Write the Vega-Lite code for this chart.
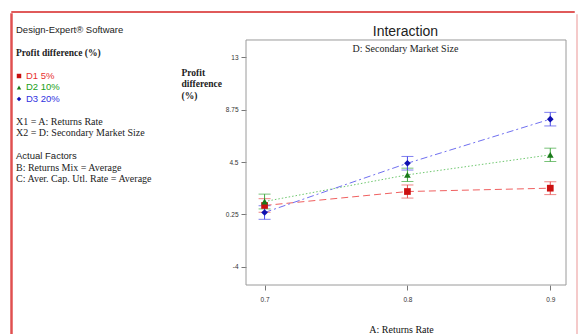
{
  "$schema": "https://vega.github.io/schema/vega-lite/v6.json",
  "padding": {"left": 10, "top": 10, "right": 0, "bottom": 0},
  "background": "white",
  "spacing": 0,
  "config": {"view": {"stroke": null}, "font": "Liberation Sans"},
  "vconcat": [
    {
      "width": 563, "height": 1,
      "data": {"values": []},
      "mark": "point",
      "view": {"stroke": "#e05a5a", "strokeWidth": 1}
    },
    {
      "spacing": 0,
      "hconcat": [
        {
          "width": 1, "height": 322,
          "data": {"values": []},
          "mark": "point",
          "view": {"stroke": "#e05050", "strokeWidth": 1.5}
        },
        {
          "width": 168, "height": 180,
          "data": {"values": [
            {"line": 0, "text": "Design-Expert® Software", "kind": "note"},
            {"line": 2, "text": "Profit difference (%)", "kind": "response"},
            {"line": 4, "text": "D1 5%", "kind": "level"},
            {"line": 5, "text": "D2 10%", "kind": "level"},
            {"line": 6, "text": "D3 20%", "kind": "level"},
            {"line": 8, "text": "X1 = A: Returns Rate", "kind": "factor"},
            {"line": 9, "text": "X2 = D: Secondary Market Size", "kind": "factor"},
            {"line": 11, "text": "Actual Factors", "kind": "note"},
            {"line": 12, "text": "B: Returns Mix = Average", "kind": "factor"},
            {"line": 13, "text": "C: Aver. Cap. Utl. Rate = Average", "kind": "factor"}
          ]},
          "encoding": {
            "x": {"datum": 0, "type": "quantitative", "scale": {"domain": [-1, 27], "nice": false, "zero": false}, "axis": null},
            "y": {"field": "line", "type": "quantitative", "scale": {"domain": [-1.391, 14.261], "reverse": true, "nice": false, "zero": false}, "axis": null}
          },
          "layer": [
            {
              "transform": [{"filter": "datum.kind === 'note'"}],
              "mark": {"type": "text", "align": "left", "baseline": "middle", "dx": -3, "font": "Liberation Sans", "fontSize": 9.5, "color": "#222222"},
              "encoding": {"text": {"field": "text"}}
            },
            {
              "transform": [{"filter": "datum.kind === 'response'"}],
              "mark": {"type": "text", "align": "left", "baseline": "middle", "dx": -3, "font": "Liberation Serif", "fontWeight": "bold", "fontSize": 9.5, "color": "#222222"},
              "encoding": {"text": {"field": "text"}}
            },
            {
              "transform": [{"filter": "datum.kind === 'factor'"}],
              "mark": {"type": "text", "align": "left", "baseline": "middle", "dx": -3, "font": "Liberation Serif", "fontSize": 10, "color": "#222222"},
              "encoding": {"text": {"field": "text"}}
            },
            {
              "transform": [{"filter": "datum.kind === 'level'"}],
              "mark": {"type": "text", "align": "left", "baseline": "middle", "dx": 7, "font": "Liberation Sans", "fontSize": 9.5},
              "encoding": {
                "text": {"field": "text"},
                "color": {"field": "text", "type": "nominal", "scale": {"domain": ["D1 5%", "D2 10%", "D3 20%"], "range": ["#e83030", "#20a020", "#3030e0"]}, "legend": null}
              }
            },
            {
              "transform": [{"filter": "datum.kind === 'level'"}],
              "mark": {"type": "point", "filled": true, "opacity": 1, "size": 20},
              "encoding": {
                "shape": {"field": "text", "type": "nominal", "scale": {"domain": ["D1 5%", "D2 10%", "D3 20%"], "range": ["square", "triangle-up", "diamond"]}, "legend": null},
                "color": {"field": "text", "type": "nominal", "scale": {"domain": ["D1 5%", "D2 10%", "D3 20%"], "range": ["#c81010", "#1a7a1a", "#1010b8"]}, "legend": null}
              }
            }
          ],
          "resolve": {"scale": {"color": "independent"}}
        },
        {
          "width": 329, "height": 271,
          "data": {"values": [
            {"A": 0.7, "D": "D1 5%", "y": 0.98, "lo": 0.43, "hi": 1.53},
            {"A": 0.8, "D": "D1 5%", "y": 2.11, "lo": 1.58, "hi": 2.64},
            {"A": 0.9, "D": "D1 5%", "y": 2.38, "lo": 1.86, "hi": 2.9},
            {"A": 0.7, "D": "D2 10%", "y": 1.3, "lo": 0.7, "hi": 1.9},
            {"A": 0.8, "D": "D2 10%", "y": 3.46, "lo": 2.92, "hi": 4.0},
            {"A": 0.9, "D": "D2 10%", "y": 5.08, "lo": 4.54, "hi": 5.62},
            {"A": 0.7, "D": "D3 20%", "y": 0.41, "lo": -0.14, "hi": 0.96},
            {"A": 0.8, "D": "D3 20%", "y": 4.4, "lo": 3.85, "hi": 4.95},
            {"A": 0.9, "D": "D3 20%", "y": 7.97, "lo": 7.42, "hi": 8.52}
          ]},
          "layer": [
            {
              "data": {"values": [{}]},
              "mark": {"type": "rect", "filled": false, "stroke": "#9a9a9a", "strokeWidth": 1},
              "encoding": {
                "x": {"datum": 0.687, "type": "quantitative", "scale": {"domain": [0.687, 0.9173], "nice": false, "zero": false}},
                "x2": {"datum": 0.911},
                "y": {"datum": -5.46, "type": "quantitative", "scale": {"domain": [-5.46, 16.485], "nice": false, "zero": false}},
                "y2": {"datum": 14.38}
              }
            },
            {
              "mark": {"type": "line", "strokeWidth": 1},
              "encoding": {
                "x": {
                  "field": "A", "type": "quantitative", "title": "A: Returns Rate",
                  "scale": {"domain": [0.687, 0.9173], "nice": false, "zero": false},
                  "axis": {"values": [0.7, 0.8, 0.9], "format": ".1f", "tickSize": 5, "tickColor": "#777777", "labelPadding": 6, "labelFontSize": 6.5, "labelColor": "#333333", "domain": false, "grid": false, "titleFont": "Liberation Serif", "titleFontSize": 10, "titleFontWeight": "normal", "titleColor": "#111111", "titlePadding": 22, "titleX": 155}
                },
                "y": {"field": "y", "type": "quantitative", "title": ["Profit", "difference", "(%)"],
                  "scale": {"domain": [-5.46, 16.485], "nice": false, "zero": false},
                  "axis": {"values": [-4, 0.25, 4.5, 8.75, 13], "labelExpr": "'' + datum.value", "tickSize": 5, "tickColor": "#777777", "labelPadding": 3, "labelFontSize": 6.5, "labelColor": "#333333", "domain": false, "grid": false, "titleAngle": 0, "titleAlign": "left", "titleBaseline": "top", "titleX": -65, "titleY": 53, "titleFont": "Liberation Serif", "titleFontWeight": "bold", "titleFontSize": 9.5, "titleLineHeight": 11.5, "titleColor": "#222222"}},
                "color": {"field": "D", "type": "nominal", "scale": {"domain": ["D1 5%", "D2 10%", "D3 20%"], "range": ["#f06060", "#70c870", "#7070f0"]}, "legend": null},
                "strokeDash": {"field": "D", "type": "nominal", "scale": {"domain": ["D1 5%", "D2 10%", "D3 20%"], "range": [[7, 4], [1.5, 2], [7, 3, 2, 3]]}, "legend": null}
              }
            },
            {
              "mark": {"type": "errorbar", "ticks": {"size": 12, "thickness": 1}, "rule": {"strokeWidth": 1}},
              "encoding": {
                "x": {"field": "A", "type": "quantitative", "scale": {"domain": [0.687, 0.9173], "nice": false, "zero": false}},
                "y": {"field": "lo", "type": "quantitative", "title": ["Profit", "difference", "(%)"], "scale": {"domain": [-5.46, 16.485], "nice": false, "zero": false}},
                "y2": {"field": "hi"},
                "color": {"field": "D", "type": "nominal", "scale": {"domain": ["D1 5%", "D2 10%", "D3 20%"], "range": ["#e85050", "#40a840", "#4848e8"]}, "legend": null}
              }
            },
            {
              "mark": {"type": "point", "filled": true, "opacity": 1, "size": 45},
              "encoding": {
                "x": {"field": "A", "type": "quantitative", "scale": {"domain": [0.687, 0.9173], "nice": false, "zero": false}},
                "y": {"field": "y", "type": "quantitative", "title": ["Profit", "difference", "(%)"], "scale": {"domain": [-5.46, 16.485], "nice": false, "zero": false}},
                "shape": {"field": "D", "type": "nominal", "scale": {"domain": ["D1 5%", "D2 10%", "D3 20%"], "range": ["square", "triangle-up", "diamond"]}, "legend": null},
                "color": {"field": "D", "type": "nominal", "scale": {"domain": ["D1 5%", "D2 10%", "D3 20%"], "range": ["#cc1010", "#1a7a1a", "#1010b0"]}, "legend": null}
              }
            },
            {
              "data": {"values": [{}]},
              "mark": {"type": "text", "font": "Liberation Serif", "fontSize": 10, "color": "#222222", "baseline": "middle"},
              "encoding": {
                "x": {"datum": 0.7986, "type": "quantitative"},
                "y": {"datum": 13.65, "type": "quantitative"},
                "text": {"value": "D: Secondary Market Size"}
              }
            },
            {
              "data": {"values": [{}]},
              "mark": {"type": "text", "font": "Liberation Sans", "fontSize": 14, "color": "#222222", "baseline": "middle"},
              "encoding": {
                "x": {"datum": 0.7986, "type": "quantitative"},
                "y": {"datum": 15.03, "type": "quantitative"},
                "text": {"value": "Interaction"}
              }
            }
          ],
          "resolve": {"scale": {"color": "independent"}}
        },
        {
          "width": 1, "height": 322,
          "data": {"values": []},
          "mark": "point",
          "view": {"stroke": "#f5caca", "strokeWidth": 1}
        }
      ]
    }
  ]
}
